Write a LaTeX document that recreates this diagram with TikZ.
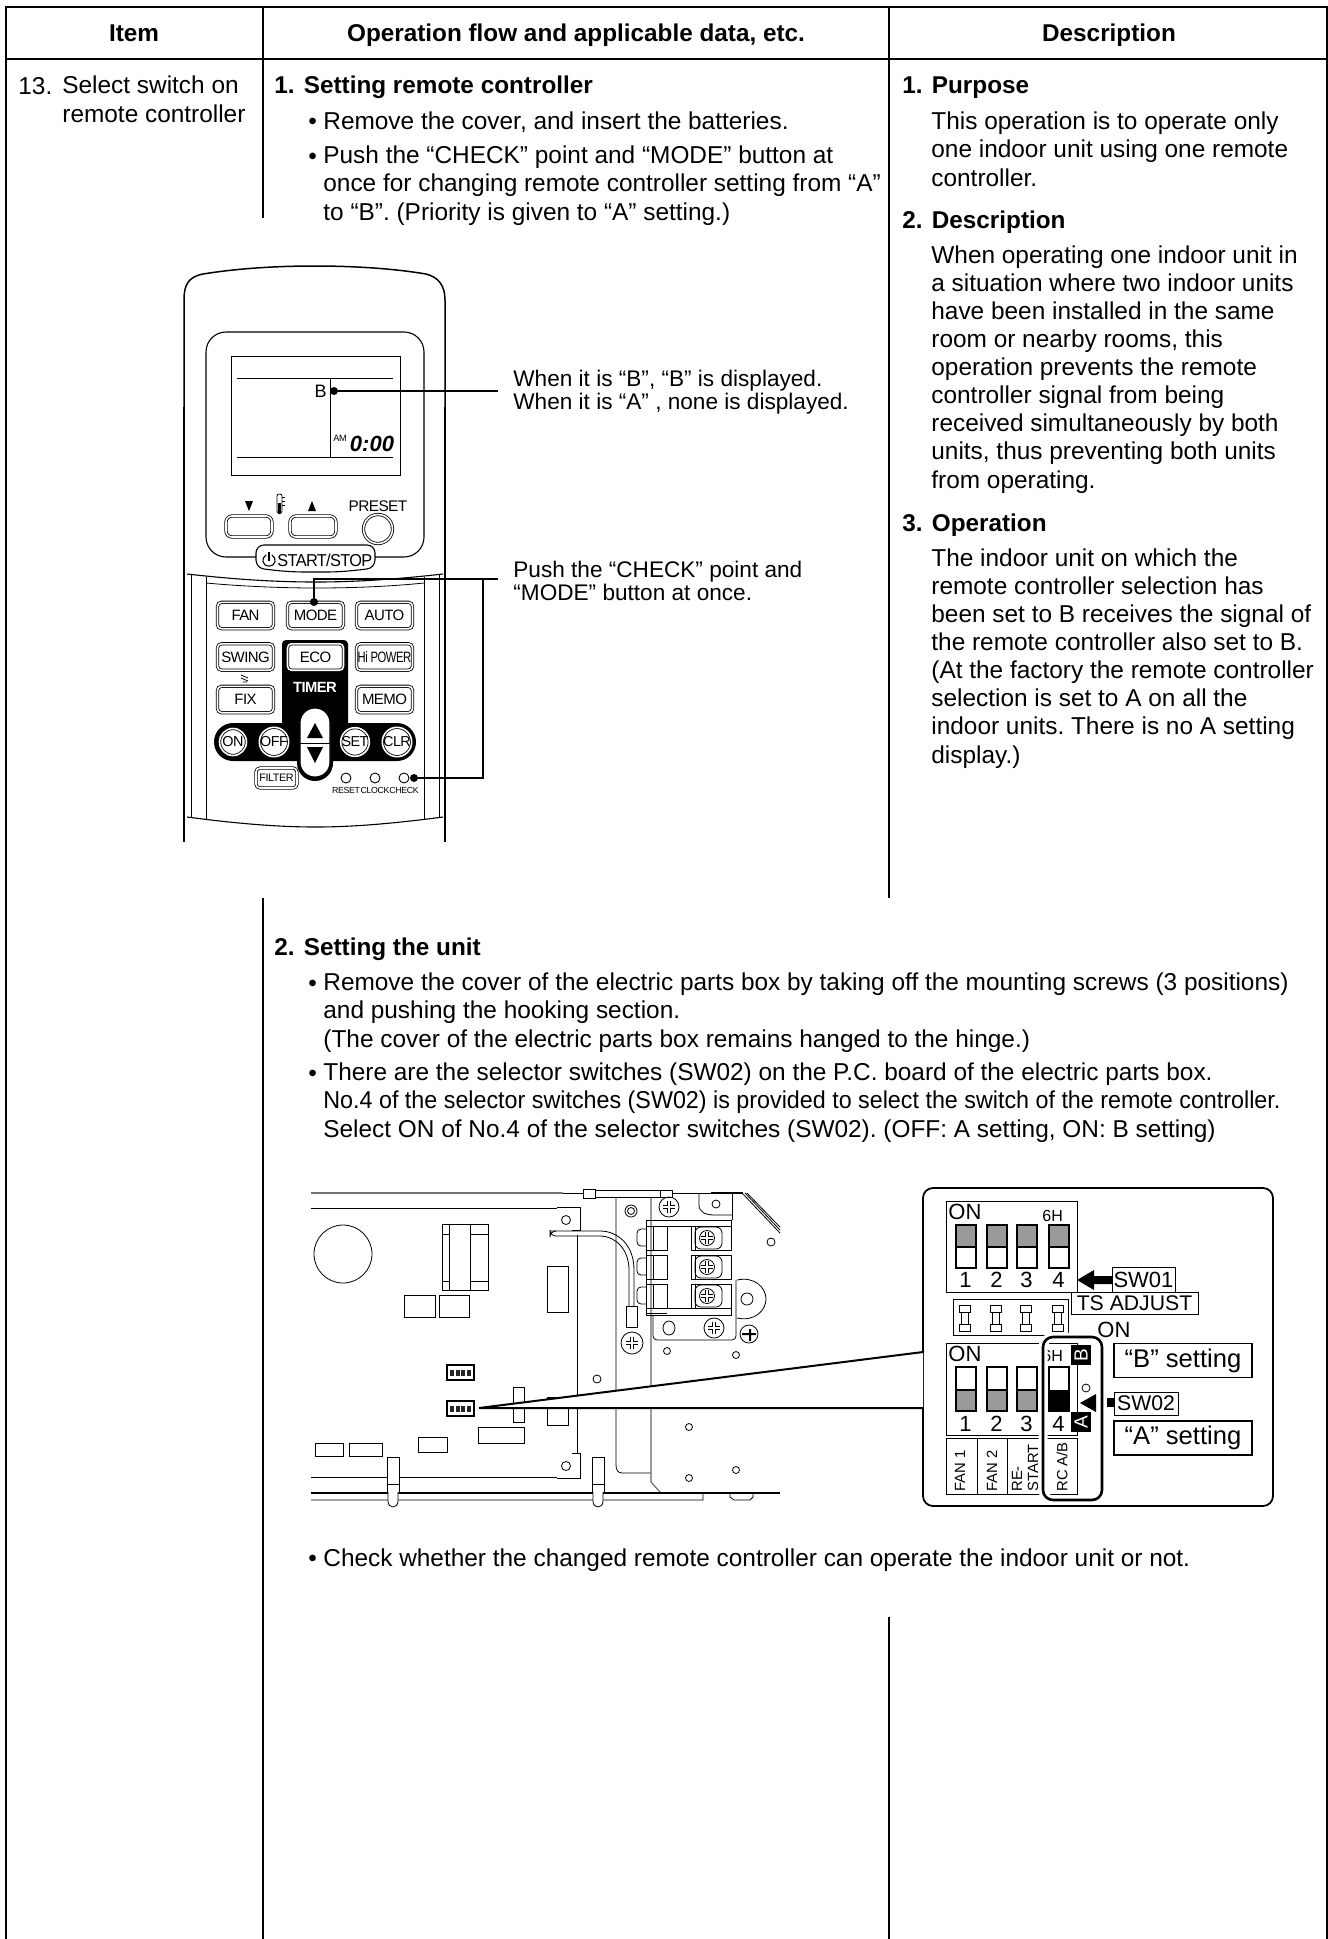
\documentclass[tikz,border=0pt]{standalone}
\usepackage{fontspec}
\setmainfont{Liberation Sans}
\newfontfamily\rcfont[LetterSpace=-4]{Liberation Sans}
\usetikzlibrary{positioning}

\begin{document}
\begin{tikzpicture}[
    x=0.5pt, y=-0.5pt,
    frameline/.style={line width=1.1pt},
    colline/.style={line width=0.75pt},
    fine/.style={line width=0.4pt},
    mid/.style={line width=0.55pt},
    zoomline/.style={line width=1pt},
    head/.style={anchor=base, inner sep=0, font=\fontsize{12.15}{14}\selectfont\bfseries},
    body/.style={anchor=base west, inner sep=0, align=left, font=\fontsize{12.2}{14.05}\selectfont\frenchspacing},
    title/.style={anchor=base west, inner sep=0, font=\fontsize{12.15}{14}\selectfont\bfseries},
    callout/.style={anchor=base west, inner sep=0, align=left, font=\fontsize{11.3}{11.15}\selectfont\frenchspacing},
    rcbtn/.style={rectangle, rounded corners=2pt, draw=black, double=white, double distance=0.8pt, line width=0.4pt, fill=white, minimum width=28pt, minimum height=13.2pt, inner sep=0, font=\fontsize{7.5}{9}\rcfont},
    rcround/.style={circle, draw=black, double=white, double distance=0.8pt, line width=0.4pt, fill=white, minimum size=13.5pt, inner sep=0, font=\fontsize{7.2}{9}\rcfont},
    led/.style={circle, draw, line width=0.45pt, minimum size=5pt, inner sep=0},
    leddot/.style={circle, fill=black, minimum size=4pt, inner sep=0},
    small/.style={inner sep=0, font=\fontsize{4.4}{6}\rcfont},
    dip/.style={inner sep=0, font=\fontsize{11}{13}\selectfont},
    sidetext/.style={inner sep=0, rotate=90, anchor=west, align=left, font=\fontsize{7.4}{8}\selectfont},
    tag/.style={rectangle, draw, fill=white, line width=0.45pt, inner sep=0}
]
    \useasboundingbox (0,0) rectangle (1328,1939);

    % Table
    \draw[frameline] (6,1939) -- (6,7) -- (1327,7) -- (1327,1939);
    \draw[frameline] (6,59) -- (1327,59);
    \draw[colline] (263,7) -- (263,218) (263,898) -- (263,1939);
    \draw[colline] (889,7) -- (889,898) (889,1617) -- (889,1939);
    \node[head] (Item) at (134,41.5) {Item};
    \node[head] (Flow) at (576,41.5) {Operation flow and applicable data, etc.};
    \node[head] (Desc) at (1109,41.5) {Description};

    % Left columns
    \node[body] (ItemNo) at (18,94) {13.};
    \node[body] (ItemText) at (62,122) {Select switch on\\remote controller};
    \node[title] (StepA) at (274,93) {1.\hspace{0.38em}Setting remote controller};
    \node[body] (StepAa) at (308,129) {•};
    \node[body] (StepAb) at (323,129) {Remove the cover, and insert the batteries.};
    \node[body] (StepAc) at (308,164) {•};
    \node[body] (StepAd) at (323,220) {Push the “CHECK” point and “MODE” button at\\once for changing remote controller setting from “A”\\to “B”. (Priority is given to “A” setting.)};
    \node[title] (StepB) at (274,955) {2.\hspace{0.38em}Setting the unit};
    \node[body] (StepBa) at (308,991) {•};
    \node[body] (StepBb) at (323,1047) {Remove the cover of the electric parts box by taking off the mounting screws (3 positions)\\and pushing the hooking section.\\(The cover of the electric parts box remains hanged to the hinge.)};
    \node[body] (StepBc) at (308,1081) {•};
    \node[body] (StepBd) at (323,1137) {There are the selector switches (SW02) on the P.C. board of the electric parts box.\\\scalebox{0.955}[1]{No.4 of the selector switches (SW02) is provided to select the switch of the remote controller.}\\Select ON of No.4 of the selector switches (SW02). (OFF: A setting, ON: B setting)};
    \node[body] (StepBe) at (308,1566) {•};
    \node[body] (StepBf) at (323,1566) {Check whether the changed remote controller can operate the indoor unit or not.};

    % Right column
    \node[title] (Purpose) at (902,93) {1.\hspace{0.38em}Purpose};
    \node[body] (PurposeText) at (931,186) {This operation is to operate only\\one indoor unit using one remote\\controller.};
    \node[title] (Descr) at (902,228) {2.\hspace{0.38em}Description};
    \node[body] (DescrText) at (931,488) {When operating one indoor unit in\\a situation where two indoor units\\have been installed in the same\\room or nearby rooms, this\\operation prevents the remote\\controller signal from being\\received simultaneously by both\\units, thus preventing both units\\from operating.};
    \node[title] (Oper) at (902,531) {3.\hspace{0.38em}Operation};
    \node[body] (OperText) at (931,763) {The indoor unit on which the\\remote controller selection has\\been set to B receives the signal of\\the remote controller also set to B.\\(At the factory the remote controller\\selection is set to A on all the\\indoor units. There is no A setting\\display.)};

    % Remote body
    \draw[colline] (184,407) -- (184,300) .. controls (184,285) and (188,277) .. (203,274) .. controls (240,268) and (280,266) .. (314,266) .. controls (350,266) and (390,268) .. (426,274) .. controls (438,277) and (445,285) .. (445,300) -- (445,407);
    \draw[line width=1.2pt] (184,407) -- (184,822) (445,407) -- (445,842);
    \draw[mid] (184,822) -- (184,842);
    \draw[mid] (187,574) .. controls (240,580) and (280,582) .. (316,582) .. controls (350,582) and (390,580) .. (443,574);
    \draw[fine] (206,583) .. controls (250,587) and (290,588) .. (316,588) .. controls (345,588) and (385,587) .. (424,583);
    \draw[mid] (187,817) .. controls (240,824) and (280,827) .. (316,827) .. controls (350,827) and (390,824) .. (443,817);
    \draw[fine] (191,575) -- (191,818) (206,577) -- (206,820) (424,577) -- (424,820) (439,575) -- (439,818);

    % Display
    \draw[mid, rounded corners=10pt] (206,332) rectangle (424,557);
    \draw[fine] (231,356) rectangle (400,475);
    \draw[fine] (237,378) -- (393,378) (237,457) -- (393,457) (330,378) -- (330,457);
    \node[inner sep=0, anchor=base east, font=\fontsize{9}{10}\selectfont] (LcdB) at (327,397) {B};
    \node[inner sep=0, font=\fontsize{4.6}{5}\rcfont] (LcdAm) at (340,438) {AM};
    \node[inner sep=0, anchor=base, font=\fontsize{11}{13}\bfseries\itshape] (LcdTime) at (372,451) {0:00};
    \fill (245,501) -- (253,501) -- (249,511) -- cycle;
    \fill (312,501) -- (316,511) -- (308,511) -- cycle;
    \draw[mid, rounded corners=3pt, double=white, double distance=0.8pt, line width=0.4pt] (226,516) rectangle (272,537);
    \draw[mid, rounded corners=3pt, double=white, double distance=0.8pt, line width=0.4pt] (290,516) rectangle (336,537);
    \draw[fine, rounded corners=1pt] (277,494) rectangle (282,513);
    \fill (278,503) rectangle (281,514);
    \draw[fine] (282,497) -- (285,497) (282,501) -- (285,501) (282,505) -- (285,505);
    \node[inner sep=0, anchor=base, font=\fontsize{7.7}{9}\rcfont] (Preset) at (378,511) {PRESET};
    \node[rcround, minimum size=14.5pt] (PresetBtn) at (378,529) {};

    % Start button
    \draw[mid, fill=white, rounded corners=4pt] (256,545) -- (375,545) -- (375,568) .. controls (350,571) and (340,572) .. (316,572) .. controls (290,572) and (280,571) .. (256,568) -- cycle;
    \node[inner sep=0, anchor=base west, font=\fontsize{8.6}{10}\rcfont] (StartStop) at (277,566) {\scalebox{0.95}[1]{START/STOP}};
    \draw[mid] (266,555) .. controls (261,558) and (262,566) .. (269,566) .. controls (276,566) and (277,558) .. (272,555);
    \draw[mid] (269,552) -- (269,561);

    % Buttons
    \fill[rounded corners=2pt] (282,640) rectangle (348,740);
    \fill[rounded corners=9.5pt] (214,723) rectangle (416,761);
    \fill[rounded corners=9pt] (297,704) rectangle (333,781);
    \node[rcbtn] (Fan) at (245.5,615.5) {FAN};
    \node[rcbtn] (Mode) at (315.5,615.5) {MODE};
    \node[rcbtn] (Auto) at (384.5,615.5) {AUTO};
    \node[rcbtn] (Swing) at (245.5,657) {SWING};
    \node[rcbtn] (Eco) at (315.5,657) {ECO};
    \node[rcbtn] (HiPower) at (384.5,657) {\scalebox{0.75}[1]{Hi POWER}};
    \node[rcbtn] (Fix) at (245.5,699.5) {FIX};
    \node[rcbtn] (Memo) at (384.5,699.5) {MEMO};
    \draw[fine] (241,675) -- (248,678) (241,678) -- (248,681) (243,682) -- (247,682);
    \node[inner sep=0, text=white, font=\fontsize{7.4}{9}\bfseries\rcfont] (Timer) at (315,687) {TIMER};
    \node[rcround] (On) at (233,742) {ON};
    \node[rcround] (Off) at (274,742) {OFF};
    \node[rcround] (Set) at (355,742) {SET};
    \node[rcround] (Clr) at (397,742) {CLR};
    \draw[mid, fill=white, rounded corners=7.4pt] (300,708) rectangle (330,777);
    \draw[fine] (300,743) -- (330,743);
    \fill (315,723) -- (323,738) -- (307,738) -- cycle;
    \fill (307,747) -- (323,747) -- (315,763) -- cycle;
    \node[rcbtn, minimum width=20.5pt, minimum height=10pt, font=\fontsize{5.4}{6}\rcfont] (Filter) at (276.5,778) {FILTER};
    \node[led] (Reset) at (346,778) {};
    \node[led] (Clock) at (375,778) {};
    \node[led] (Check) at (404,778) {};
    \node[small] (ResetTxt) at (346,790) {RESET};
    \node[small] (ClockTxt) at (375,790) {CLOCK};
    \node[small] (CheckTxt) at (404,790) {CHECK};

    % Callouts
    \node[leddot] (LcdDot) at (334,391) {};
    \node[leddot] (ModeDot) at (314,602) {};
    \node[leddot] (CheckDot) at (414,778) {};
    \coordinate (LcdEnd) at (498,391);
    \coordinate (PushEnd) at (498,579);
    \coordinate (PushJoin) at (483,579);
    \draw[mid] (LcdDot) -- (LcdEnd);
    \draw[mid] (ModeDot) |- (PushEnd);
    \draw[mid] (CheckDot) -| (PushJoin);
    \node[callout] (LcdNote) at (513,409) {When it is “B”, “B” is displayed.\\When it is “A” , none is displayed.};
    \node[callout] (PushNote) at (513,600) {Push the “CHECK” point and\\“MODE” button at once.};

    % Board
    \draw[line width=0.9pt, black!55] (311,1193) -- (563,1193);
    \draw[fine] (563,1193) -- (583,1193) (311,1208) -- (557,1208);
    \draw[fine] (583,1189) rectangle (595,1198) (595,1190) rectangle (660,1197) (660,1190) rectangle (672,1197);
    \draw[fine] (672,1193) -- (711,1193);
    \draw[mid] (711,1193) -- (743,1193);
    \draw[fine] (742,1193) -- (780,1233) (745,1193) -- (780,1230) (747,1193) -- (780,1227);
    \draw[fine] (557,1207) -- (580,1207) -- (580,1230) -- (572,1230) (577,1235) -- (577,1453) (572,1453) -- (580,1453) -- (580,1478) -- (557,1478);
    \draw[fine] (311,1477) -- (557,1477);
    \draw[fine, rounded corners=3pt] (555,1231) -- (550,1231) -- (550,1236) -- (600,1236);
    \draw[fine] (550,1231) -- (600,1231) .. controls (618,1231) and (634,1245) .. (634,1270) -- (634,1306);
    \draw[fine] (600,1236) .. controls (616,1236) and (629,1250) .. (629,1270) -- (629,1306);
    \draw[fine] (626,1306) rectangle (637,1327);
    \draw[fine] (616,1198) -- (616,1465) .. controls (616,1470) and (618,1473) .. (622,1473) -- (651,1473);
    \draw[mid, black!60] (651,1198) -- (651,1482) -- (660,1492);
    \draw[mid] (311,1493) -- (780,1493);
    \draw[line width=1pt] (311,1493) -- (332,1493);
    \draw[fine] (311,1500) -- (703,1500) -- (703,1493) (730,1493) -- (730,1497) -- (734,1500) -- (750,1500) -- (753,1497) -- (753,1493);
    \draw[fine] (343,1254) circle[radius=29];
    \draw[fine] (442,1224) rectangle (488,1290) (449,1224) -- (449,1290) (470,1224) -- (470,1290) (442,1234) -- (449,1234) (470,1234) -- (488,1234) (442,1281) -- (449,1281) (470,1281) -- (488,1281);
    \draw[fine] (404,1295) rectangle (435,1317) (439,1295) rectangle (469,1317) (547,1266) rectangle (568,1312);
    \draw[fine] (513,1387) rectangle (524,1422) (547,1397) rectangle (568,1425) (478,1427) rectangle (524,1443) (418,1437) rectangle (447,1452) (315,1443) rectangle (343,1456) (349,1443) rectangle (382,1456);
    \draw[mid] (447,1365) rectangle (474,1380) (447,1401) rectangle (474,1416);
    \foreach \py in {1372.5,1408.5} {
        \foreach \px in {452,457.5,463,468.5}
            \fill[black!85] (\px-2,\py-3) rectangle (\px+2,\py+3);
    }
    \foreach \px in {387,592} {
        \draw[fill=white, fine] (\px,1457) rectangle (\px+12,1492) (\px,1484) -- (\px+12,1484);
        \draw[fill=white, fine] (\px+1,1492) -- (\px+1,1501) .. controls (\px+1,1509) and (\px+11,1509) .. (\px+11,1501) -- (\px+11,1492);
    }
    % Terminal block
    \draw[fine] (699,1193) -- (699,1205) .. controls (699,1212) and (705,1215) .. (715,1215) -- (732,1215);
    \draw[fine] (732,1193) -- (732,1220);
    \draw[fine] (646,1220) rectangle (731,1226) (646,1308) rectangle (731,1315);
    \foreach \py in {1226,1255,1284} {
        \draw[fine, rounded corners=2pt] (646,\py+3) -- (637,\py+3) -- (637,\py+20) -- (646,\py+20);
        \draw[fine] (646,\py) rectangle (667,\py+24) (653,\py) -- (653,\py+24) (646,\py+24) -- (646,\py+29) -- (667,\py+29);
        \draw[fine] (691,\py) rectangle (731,\py+24) (695,\py) -- (695,\py+24);
        \draw[fine, rounded corners=3pt] (695,\py+1) rectangle (722,\py+23);
        \draw[fine] (707,\py+12) circle[radius=7.5];
        \draw[fine, double=white, double distance=1pt] (701,\py+12) -- (713,\py+12) (707,\py+6) -- (707,\py+18);
    }
    \draw[fine, rounded corners=2pt] (653,1315) -- (653,1340) -- (736,1340) -- (736,1280);
    \draw[fine] (669,1328) ellipse[x radius=6, y radius=7];
    \draw[fine] (737,1280) .. controls (755,1276) and (766,1288) .. (766,1299) .. controls (766,1310) and (755,1322) .. (737,1318);
    \foreach \px/\py/\pr in {669/1207/10, 714/1328/10, 632/1343/11} {
        \draw[fine] (\px,\py) circle[radius=\pr];
        \draw[fine, double=white, double distance=1.2pt] (\px-6,\py) -- (\px+6,\py) (\px,\py-6) -- (\px,\py+6);
    }
    \foreach \px/\py/\pr in {566/1220/4.5, 566/1466/4.5, 597/1379/4, 716/1204/4, 631/1211/6, 631/1211/3.5, 747/1299/6, 667/1351/3.5, 736/1355/3.5, 771/1242/4, 689/1427/3.5, 736/1470/3.5, 689/1478/3.5} {
        \draw[fine] (\px,\py) circle[radius=\pr];
    }
    \draw[fine] (749,1334) circle[radius=9];
    \fill (749,1329) rectangle (751,1341) (742,1333) rectangle (756,1335);

    % Zoom lines
    \coordinate (SwitchTip) at (479,1408);
    \node[rectangle, rounded corners=5pt, draw, fill=white, line width=0.9pt, minimum width=175pt, minimum height=159pt, inner sep=0] (Detail) at (1098,1347) {};
    \fill[white] (SwitchTip) -- (923,1352) -- (923,1408) -- cycle;
    \draw[zoomline] (923,1352) -- (SwitchTip) -- (923,1408);

    % Detail
    \draw[fine] (946,1201) rectangle (1077,1292);
    \node[dip, anchor=base west] (OnA) at (948,1219) {ON};
    \node[inner sep=0, anchor=base west, font=\fontsize{8}{9}\selectfont] (SixA) at (1042,1221) {6H};
    \foreach \px/\nm in {956/1, 987/2, 1017/3, 1049/4} {
        \fill[black!40] (\px,1225) rectangle (\px+20,1247);
        \draw[mid] (\px,1225) rectangle (\px+20,1268) (\px,1247) -- (\px+20,1247);
        \node[dip, anchor=base] (NumA\nm) at (\px+9.5,1287) {\nm};
        \draw[fine] (\px+3,1305) rectangle (\px+14,1312) (\px+5,1312) rectangle (\px+12,1324) (\px+3,1324) rectangle (\px+14,1331);
    }
    \fill (1077,1280) -- (1094,1270) -- (1094,1276) -- (1112,1276) -- (1112,1284) -- (1094,1284) -- (1094,1290) -- cycle;
    \node[tag, minimum width=31.5pt, minimum height=12.5pt, font=\fontsize{11}{12}\selectfont] (SwOne) at (1143.5,1279.5) {SW01};
    \node[tag, minimum width=63.5pt, minimum height=11pt, font=\fontsize{10.6}{12}\selectfont] (TsAdjust) at (1134.5,1303) {TS ADJUST};
    \draw[fine] (1068,1335) -- (1068,1299) -- (953,1299) -- (953,1335) -- (1068,1335);
    \node[dip, anchor=base west] (OnOut) at (1097,1337) {ON};
    \draw[fine] (946,1343) rectangle (1077,1435);
    \node[dip, anchor=base west] (OnB) at (948,1361) {ON};
    \node[inner sep=0, anchor=base west, font=\fontsize{8}{9}\selectfont] (SixB) at (1042,1361) {6H};
    \foreach \px/\nm in {956/1, 987/2, 1017/3} {
        \fill[black!40] (\px,1390) rectangle (\px+20,1411);
        \draw[mid] (\px,1367) rectangle (\px+20,1411) (\px,1390) -- (\px+20,1390);
        \node[dip, anchor=base] (NumB\nm) at (\px+9.5,1431) {\nm};
    }
    \draw[fine] (946,1438) rectangle (1077,1494) (977,1438) -- (977,1494) (1007,1438) -- (1007,1494);
    \node[sidetext] (SideA) at (960,1492) {FAN 1};
    \node[sidetext] (SideB) at (992,1492) {FAN 2};
    \node[sidetext] (SideC) at (1025,1492) {RE-\\START};
    \node[sidetext] (SideD) at (1062,1492) {RC A/B};
    \draw[white, line width=4.5pt, rounded corners=5pt] (1043,1337) rectangle (1102,1500);
    \draw[line width=1.3pt, rounded corners=5pt] (1043,1337) rectangle (1102,1500);
    \draw[fine] (1049,1343) -- (1077,1343) -- (1077,1435);
    \fill (1049,1390) rectangle (1069,1411);
    \draw[mid] (1049,1367) rectangle (1069,1411);
    \node[dip, anchor=base] (NumBd) at (1058.5,1431) {4};
    \node[rectangle, fill=black, text=white, minimum size=10pt, inner sep=0, rotate=90, font=\fontsize{9.5}{10}\selectfont] (SetB) at (1081,1355) {B};
    \node[rectangle, fill=black, text=white, minimum size=10pt, inner sep=0, rotate=90, font=\fontsize{9.5}{10}\selectfont] (SetA) at (1081,1422) {A};
    \draw[fine] (1086,1388) circle[radius=4];
    \fill (1080,1403) -- (1096,1394) -- (1096,1412) -- cycle;
    \fill (1107,1398) rectangle (1114,1407);
    \node[tag, minimum width=32pt, minimum height=11.5pt, font=\fontsize{10.6}{12}\selectfont] (SwTwo) at (1146,1403.5) {SW02};
    \node[tag, line width=0.9pt, minimum width=69pt, minimum height=17pt, font=\fontsize{12.8}{14}\selectfont] (SetBTxt) at (1183,1360.5) {“B” setting};
    \node[tag, line width=0.9pt, minimum width=69pt, minimum height=17pt, font=\fontsize{12.8}{14}\selectfont] (SetATxt) at (1183,1438) {“A” setting};
\end{tikzpicture}
\end{document}
